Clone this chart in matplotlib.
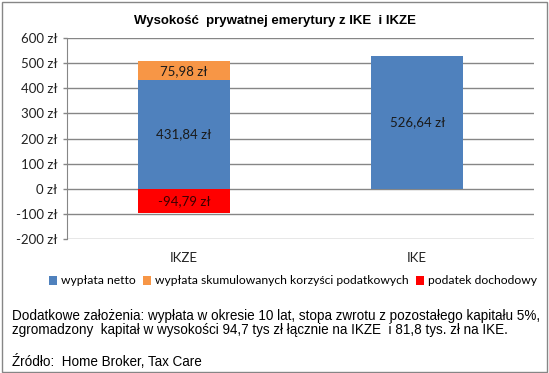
import matplotlib
matplotlib.use('Agg')
from matplotlib import pyplot as plt
from matplotlib.patches import Rectangle

categories = ['IKZE', 'IKE']
netto = [431.84, 526.64]
korzysci = [75.98, 0]
podatek = [-94.79, 0]
series_names = ['wypłata netto', 'wypłata skumulowanych korzyści podatkowych', 'podatek dochodowy']
colors = ['#4F81BD', '#F79646', '#FF0000']
yticks = [-200, -100, 0, 100, 200, 300, 400, 500, 600]

W, H = 549, 373
fig = plt.figure(figsize=(W / 100, H / 100), dpi=100)
fig.patch.set_facecolor('white')
fig.patches.append(Rectangle((1.5 / W, 1.5 / H), (W - 3.5) / W, (H - 3.5) / H,
                             transform=fig.transFigure, fill=False,
                             edgecolor='#868686', lw=1))

ax = fig.add_axes([67 / W, 1 - 239 / H, (534 - 67) / W, (239 - 38) / H])
x = range(len(categories))
w = 0.395
b1 = ax.bar(x, netto, w, color=colors[0], label=series_names[0], zorder=3)
b2 = ax.bar(x, korzysci, w, bottom=netto, color=colors[1], label=series_names[1], zorder=3)
b3 = ax.bar(x, podatek, w, color=colors[2], label=series_names[2], zorder=3)

ax.set_xlim(-0.5, 1.5)
ax.set_ylim(-200, 600)
ax.set_yticks(yticks)
ax.set_yticklabels([f'{v} zł' for v in yticks], fontfamily='Lato', fontsize=9.5, color='#222222')
ax.grid(axis='y', color='#868686', lw=1, zorder=0)
ax.set_xticks(list(x))
ax.set_xticklabels(categories, fontfamily='Lato', fontsize=9.5, color='#222222')
ax.tick_params(axis='x', length=0, pad=9)
ax.tick_params(axis='y', length=3, width=1, color='#868686', pad=4)
for s in ['top', 'right', 'bottom']:
    ax.spines[s].set_visible(False)
ax.spines['left'].set_color('#868686')


def fmt(v):
    return f'{v:.2f}'.replace('.', ',') + ' zł'


for i in x:
    ax.text(i, netto[i] / 2, fmt(netto[i]), ha='center', va='center',
            fontfamily='Lato', fontsize=9.5, color='#1a1a1a', zorder=4)
    if korzysci[i]:
        ax.text(i, netto[i] + korzysci[i] / 2, fmt(korzysci[i]), ha='center', va='center',
                fontfamily='Lato', fontsize=9.5, color='#1a1a1a', zorder=4)
    if podatek[i]:
        ax.text(i, podatek[i] / 2, fmt(podatek[i]), ha='center', va='center',
                fontfamily='Lato', fontsize=9.5, color='#3a0000', zorder=4)

fig.text(275 / W, 1 - 21 / H, 'Wysokość  prywatnej emerytury z IKE  i IKZE',
         ha='center', va='center', fontfamily='Liberation Sans', fontweight='bold', fontsize=9.5)

fig.legend(handles=[b1, b2, b3], loc='center', bbox_to_anchor=(293 / W, 1 - 281 / H),
           ncol=3, frameon=False, prop={'family': 'Lato', 'size': 8.7},
           handlelength=0.7, handleheight=0.7, handletextpad=0.3, columnspacing=0.6,
           borderpad=0, borderaxespad=0)

fig.text(12 / W, 1 - 316 / H,
         'Dodatkowe założenia: wypłata w okresie 10 lat, stopa zwrotu z pozostałego kapitału 5%,',
         ha='left', va='center', fontfamily='Liberation Sans', fontsize=9.75)
fig.text(12 / W, 1 - 330 / H,
         'zgromadzony  kapitał w wysokości 94,7 tys zł łącznie na IKZE  i 81,8 tys. zł na IKE.',
         ha='left', va='center', fontfamily='Liberation Sans', fontsize=9.75)
fig.text(12 / W, 1 - 362 / H, 'Źródło:  Home Broker, Tax Care',
         ha='left', va='center', fontfamily='Liberation Sans', fontsize=9.75)

fig.savefig('out.png', dpi=100)
